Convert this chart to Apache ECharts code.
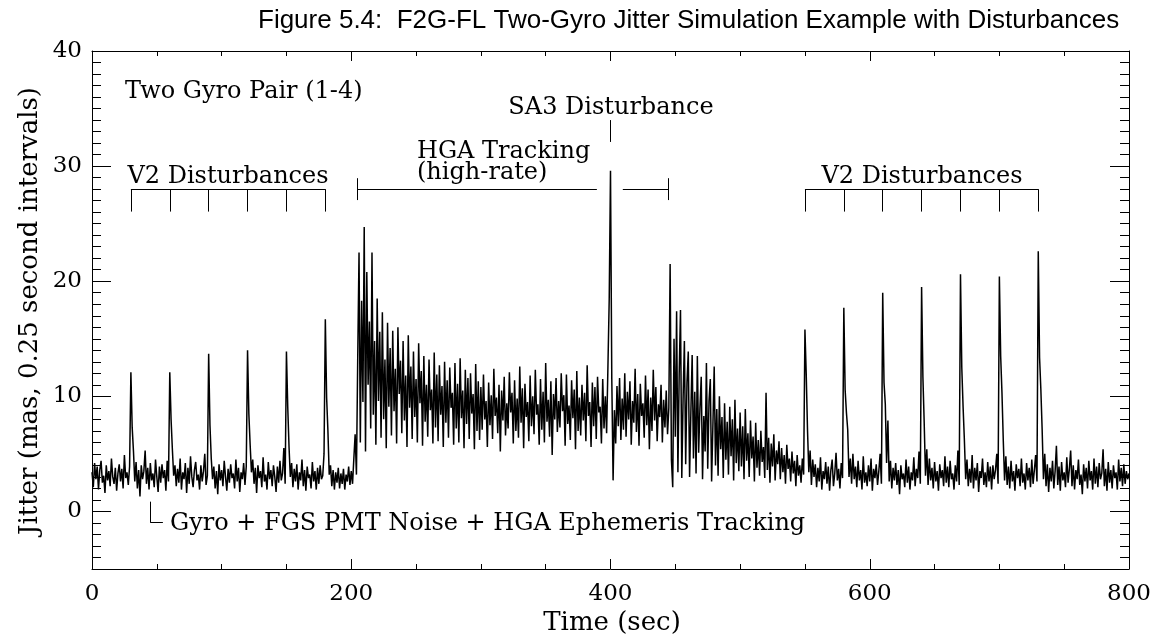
<!DOCTYPE html>
<html><head><meta charset="utf-8">
<script src="https://cdn.jsdelivr.net/npm/echarts@6/dist/echarts.min.js"></script>
<style>html,body{margin:0;padding:0;background:#fff}#c{width:1161px;height:643px}</style>
</head><body><div id="c"></div>
<script>
const timeStep = 1;
const jitter000 = [
 3.4, 2.1, 4.2, 2.8, 3.9, 1.9, 3.6, 4.4, 2.5, 3.1,
 1.6, 4.0, 2.7, 3.5, 2.2, 4.6, 3.0, 2.4, 3.8, 1.8,
 3.3, 4.1, 2.6, 3.7, 2.0, 4.9, 2.9, 3.4, 2.3, 3.9,
 12.1, 7.3, 5.2, 2.6, 4.3, 2.0, 3.6, 1.3, 4.0, 2.8,
 3.5, 5.3, 2.4, 3.8, 1.9, 4.2, 2.7, 3.3, 2.1, 4.5,
 3.0, 1.7, 3.9, 2.5, 4.1, 2.9, 3.6, 1.8, 4.4, 2.6,
 12.1, 8.0, 5.4, 3.1, 4.0, 2.2, 3.7, 2.5, 4.6, 1.9,
 3.4, 2.8, 4.2, 1.6, 3.8, 2.4, 4.8, 3.0, 2.1, 3.6,
 4.3, 2.7, 3.2, 1.9, 4.0, 2.6, 3.5, 5.0, 2.3, 3.1,
 13.7, 7.5, 4.6, 2.8, 3.9, 2.0, 3.5, 1.5, 4.1, 2.7
];
const jitter100 = [
 3.6, 2.2, 4.4, 3.0, 1.8, 3.7, 2.5, 4.1, 2.9, 3.3,
 2.0, 4.5, 2.6, 3.8, 1.7, 3.4, 2.8, 4.2, 2.3, 3.9,
 14.0, 8.5, 5.8, 3.4, 4.5, 2.4, 3.8, 1.6, 4.0, 2.9,
 3.5, 2.1, 4.7, 2.6, 3.2, 1.9, 4.3, 2.8, 3.6, 2.2,
 4.0, 3.0, 1.7, 3.9, 2.5, 4.4, 2.7, 3.3, 5.5, 2.4,
 13.9, 9.1, 5.6, 3.0, 4.2, 2.1, 3.7, 2.6, 4.1, 1.9,
 3.4, 2.7, 4.5, 2.2, 3.6, 1.8, 3.9, 2.9, 3.2, 2.0,
 4.3, 2.6, 3.5, 1.9, 3.8, 2.4, 4.0, 2.8, 3.1, 5.0,
 16.7, 9.9, 7.0, 3.2, 4.0, 2.2, 3.6, 1.9, 3.4, 2.5,
 3.8, 2.0, 3.3, 2.4, 3.7, 1.9, 3.2, 2.6, 3.9, 2.3
];
const jitter200 = [
 3.5, 2.4, 4.6, 6.7, 3.2, 13.4, 22.5, 6.0, 18.3, 9.5,
 24.7, 5.2, 20.8, 11.0, 16.5, 7.2, 22.5, 8.4, 14.8, 5.8,
 18.5, 9.6, 15.6, 6.4, 17.3, 8.0, 13.2, 5.5, 16.4, 9.1,
 14.2, 6.6, 15.7, 8.7, 12.4, 5.9, 16.0, 10.2, 13.1, 6.8,
 14.8, 7.9, 11.8, 5.6, 15.3, 9.0, 12.6, 6.3, 13.9, 8.2,
 11.5, 6.0, 14.6, 9.4, 12.2, 5.7, 13.5, 7.8, 11.0, 6.5,
 13.2, 8.8, 10.6, 5.9, 13.8, 7.3, 11.9, 6.1, 12.7, 8.4,
 10.9, 5.6, 13.0, 7.7, 11.4, 6.4, 12.5, 9.0, 10.3, 5.8,
 12.9, 7.2, 11.1, 6.0, 13.3, 8.1, 10.5, 5.5, 12.3, 7.6,
 11.6, 6.3, 12.0, 8.5, 10.2, 5.4, 12.8, 7.0, 11.3, 6.2
];
const jitter300 = [
 10.8, 7.1, 11.9, 8.0, 9.6, 5.6, 11.2, 7.5, 10.1, 6.3,
 12.4, 8.3, 9.9, 6.8, 11.0, 5.2, 10.5, 7.9, 11.7, 6.6,
 9.4, 7.2, 12.1, 8.6, 10.3, 5.9, 11.4, 7.0, 9.8, 6.4,
 12.6, 7.7, 10.7, 5.5, 11.1, 8.2, 9.5, 6.1, 11.8, 7.4,
 10.0, 6.7, 12.3, 8.4, 9.3, 5.8, 11.5, 7.1, 10.4, 6.0,
 12.9, 7.8, 9.7, 6.5, 11.3, 4.9, 10.2, 8.0, 11.6, 6.9,
 9.6, 7.3, 12.0, 8.7, 10.1, 5.7, 11.9, 7.6, 9.2, 6.2,
 11.4, 8.1, 10.6, 5.4, 12.2, 7.0, 9.9, 6.6, 11.0, 7.9,
 10.3, 6.1, 12.7, 8.3, 9.5, 5.6, 11.2, 7.4, 10.8, 6.3,
 11.7, 8.6, 9.1, 5.9, 11.5, 7.2, 10.0, 6.8, 12.5, 18.4
];
const jitter400 = [
 29.6, 11.5, 2.7, 8.8, 5.9, 10.9, 7.4, 11.6, 6.2, 9.8,
 7.1, 12.0, 6.5, 10.4, 8.0, 11.3, 5.8, 9.6, 7.7, 12.4,
 6.9, 10.2, 5.7, 11.1, 8.3, 9.4, 6.4, 11.8, 7.5, 10.6,
 5.4, 9.9, 7.0, 12.3, 7.9, 10.8, 6.1, 9.3, 8.2, 11.0,
 6.0, 9.7, 7.3, 10.5, 6.7, 9.0, 21.5, 4.5, 2.1, 15.0,
 6.5, 17.4, 3.4, 12.0, 17.5, 2.9, 9.8, 14.8, 4.1, 11.2,
 13.9, 3.0, 8.6, 13.6, 4.6, 10.4, 3.3, 13.5, 5.1, 9.0,
 11.7, 2.8, 8.3, 5.2, 12.9, 3.7, 9.6, 11.5, 2.6, 7.5,
 12.6, 4.0, 8.9, 3.1, 10.0, 5.4, 8.2, 2.9, 9.4, 4.5,
 7.8, 3.2, 9.1, 4.8, 8.0, 2.7, 9.7, 4.2, 7.2, 3.5
];
const jitter500 = [
 8.6, 3.9, 7.4, 2.8, 8.9, 4.4, 6.8, 3.0, 7.9, 4.6,
 6.5, 2.6, 7.7, 3.8, 6.2, 3.1, 7.0, 4.3, 5.6, 2.9,
 10.3, 3.6, 6.4, 2.5, 5.9, 3.9, 6.7, 2.7, 5.3, 4.1,
 6.1, 2.8, 5.5, 3.4, 4.9, 2.4, 5.8, 3.7, 4.6, 2.6,
 5.2, 3.3, 4.4, 2.2, 4.9, 3.1, 4.0, 2.5, 4.6, 3.2,
 15.8, 11.9, 7.0, 3.4, 5.3, 2.3, 4.5, 3.0, 4.1, 2.1,
 3.8, 2.6, 4.7, 1.9, 3.5, 2.8, 4.3, 2.4, 3.9, 1.8,
 3.6, 4.5, 2.2, 3.3, 5.1, 2.7, 3.7, 2.0, 4.2, 2.9,
 17.7, 10.6, 8.6, 7.1, 3.0, 4.6, 2.4, 5.0, 2.8, 3.9,
 2.1, 4.4, 2.7, 3.6, 1.9, 4.8, 2.5, 3.4, 2.2, 4.0
];
const jitter600 = [
 2.6, 4.6, 1.8, 3.7, 2.9, 4.1, 2.3, 3.5, 5.0, 2.4,
 19.0, 11.2, 9.3, 4.2, 7.9, 2.6, 4.4, 2.0, 3.8, 2.7,
 4.2, 2.3, 3.6, 1.5, 4.0, 2.8, 3.3, 2.1, 4.5, 2.5,
 3.9, 1.9, 3.4, 2.7, 4.7, 2.2, 3.7, 2.9, 5.2, 2.4,
 19.5, 11.7, 7.7, 3.1, 5.4, 2.3, 4.6, 2.7, 3.8, 2.0,
 4.3, 2.6, 3.5, 1.8, 4.1, 2.9, 3.6, 2.2, 4.8, 2.5,
 3.9, 2.1, 4.4, 2.8, 3.3, 1.9, 4.0, 2.6, 5.3, 2.3,
 20.6, 12.5, 9.1, 6.2, 2.8, 4.5, 2.2, 3.7, 2.5, 4.9,
 2.0, 3.8, 2.7, 4.2, 1.7, 3.5, 2.9, 4.6, 2.3, 3.4,
 2.1, 4.3, 2.6, 3.9, 1.9, 4.0, 2.8, 3.6, 5.0, 2.4
];
const jitter700 = [
 20.4, 13.5, 10.3, 6.2, 2.7, 4.8, 2.3, 3.9, 2.0, 4.4,
 2.6, 3.5, 1.8, 4.1, 2.9, 3.7, 2.2, 4.6, 2.5, 3.3,
 1.9, 4.2, 2.7, 3.8, 2.1, 4.5, 2.4, 3.6, 4.9, 2.6,
 22.6, 13.4, 10.6, 7.1, 2.8, 5.0, 2.2, 4.1, 1.7, 3.8,
 2.6, 4.4, 2.0, 3.5, 5.7, 2.3, 3.9, 1.8, 4.3, 2.7,
 3.4, 2.1, 4.7, 2.5, 3.7, 5.3, 2.2, 4.0, 1.9, 3.6,
 2.8, 4.5, 2.3, 3.2, 1.5, 4.1, 2.6, 3.8, 2.0, 4.4,
 2.7, 3.5, 1.9, 4.6, 2.4, 3.9, 2.1, 4.2, 2.8, 3.3,
 5.4, 2.2, 3.7, 1.8, 4.3, 2.5, 3.6, 2.0, 4.0, 2.9,
 3.4, 1.9, 4.5, 2.6, 3.8, 2.2, 4.1, 2.4, 3.5, 2.8
];
const jitter800 = [3.3];

// Annotation positions (seconds / mas)
const v2LeftTimes = [30, 60, 90, 120, 150, 180];
const v2RightTimes = [550, 580, 610, 640, 670, 700, 730];
const hgaSpan1 = [204.5, 389.5];
const hgaSpan2 = [409.5, 444.5];
const sa3Time = 400;

const segments = [jitter000, jitter100, jitter200, jitter300, jitter400, jitter500, jitter600, jitter700, jitter800];
const data = [];
segments.forEach((seg, s) => seg.forEach((v, i) => data.push([(s * 100 + i) * timeStep, v])));

const lines = [];
function seg(x1, y1, x2, y2) { lines.push([{ coord: [x1, y1] }, { coord: [x2, y2] }]); }
function bracket(times) {
  seg(times[0], 28, times[times.length - 1], 28);
  times.forEach(t => seg(t, 28, t, 26.05));
}
bracket(v2LeftTimes);
bracket(v2RightTimes);
seg(hgaSpan1[0], 28, hgaSpan1[1], 28);
seg(hgaSpan1[0], 27.05, hgaSpan1[0], 28.95);
seg(hgaSpan2[0], 28, hgaSpan2[1], 28);
seg(hgaSpan2[1], 27.05, hgaSpan2[1], 28.95);
seg(sa3Time, 32.1, sa3Time, 34.0);
seg(45, 0.85, 45, -0.97);
seg(45, -0.97, 54.7, -0.97);

const serif = '"DejaVu Serif", serif';
const black = '#000';

function xAxisDef(pos, showLabel) {
  return {
    type: 'value', position: pos, min: 0, max: 800, interval: 200,
    axisLine: { show: true, onZero: false, lineStyle: { color: black, width: 1 } },
    axisTick: { show: true, inside: true, length: 10, lineStyle: { color: black, width: 1 } },
    minorTick: { show: true, splitNumber: 4, length: 5, lineStyle: { color: black, width: 1 } },
    axisLabel: { show: showLabel, margin: 14, color: black, fontFamily: serif, fontSize: 23 },
    splitLine: { show: false }, minorSplitLine: { show: false }
  };
}
function yAxisDef(pos, showLabel) {
  return {
    type: 'value', position: pos, min: -5, max: 40, splitNumber: 5,
    axisLine: { show: true, onZero: false, lineStyle: { color: black, width: 1 } },
    axisTick: { show: true, inside: true, length: 19, lineStyle: { color: black, width: 1 } },
    minorTick: { show: true, splitNumber: 10, length: 9, lineStyle: { color: black, width: 1 } },
    axisLabel: { show: showLabel, margin: 10, color: black, fontFamily: serif, fontSize: 23,
      showMinLabel: false, formatter: v => (v === -5 ? '' : String(v)) },
    splitLine: { show: false }, minorSplitLine: { show: false }
  };
}
function txt(text, x, y, align, size) {
  return { type: 'text', x: x, y: y, silent: true,
    style: { text: text, fill: black, font: (size || 24) + 'px ' + serif, align: align || 'left', verticalAlign: 'middle' } };
}

const chart = echarts.init(document.getElementById('c'), null, { renderer: 'canvas' });
chart.setOption({
  animation: false,
  backgroundColor: '#fff',
  grid: { left: 92, top: 51, width: 1037, height: 518, containLabel: false },
  xAxis: [xAxisDef('bottom', true), xAxisDef('top', false)],
  yAxis: [yAxisDef('left', true), yAxisDef('right', false)],
  series: [{
    type: 'line', data: data, xAxisIndex: 0, yAxisIndex: 0,
    showSymbol: false, symbol: 'none', silent: true,
    lineStyle: { color: black, width: 1.5 },
    markLine: {
      silent: true, symbol: ['none', 'none'], animation: false,
      label: { show: false }, emphasis: { disabled: true },
      lineStyle: { type: 'solid', color: black, width: 1 },
      data: lines
    }
  }],
  graphic: [
    { type: 'text', x: 258, y: 21, silent: true,
      style: { text: 'Figure 5.4:  F2G-FL Two-Gyro Jitter Simulation Example with Disturbances', fill: black,
        font: '26px "Liberation Sans", Arial, sans-serif', align: 'left', verticalAlign: 'middle' } },
    { type: 'text', x: 30, y: 311, rotation: Math.PI / 2, silent: true,
      style: { text: 'Jitter (mas, 0.25 second intervals)', fill: black, font: '26px ' + serif, align: 'center', verticalAlign: 'middle' } },
    txt('Time (sec)', 612, 623, 'center', 26),
    txt('Two Gyro Pair (1-4)', 125, 92, 'left'),
    txt('V2 Disturbances', 228, 177, 'center'),
    txt('V2 Disturbances', 922, 177, 'center'),
    txt('HGA Tracking', 417, 152, 'left'),
    txt('(high-rate)', 417, 173, 'left'),
    txt('SA3 Disturbance', 611, 108, 'center'),
    txt('Gyro + FGS PMT Noise + HGA Ephemeris Tracking', 170, 523.5, 'left')
  ]
});
</script>
</body></html>
